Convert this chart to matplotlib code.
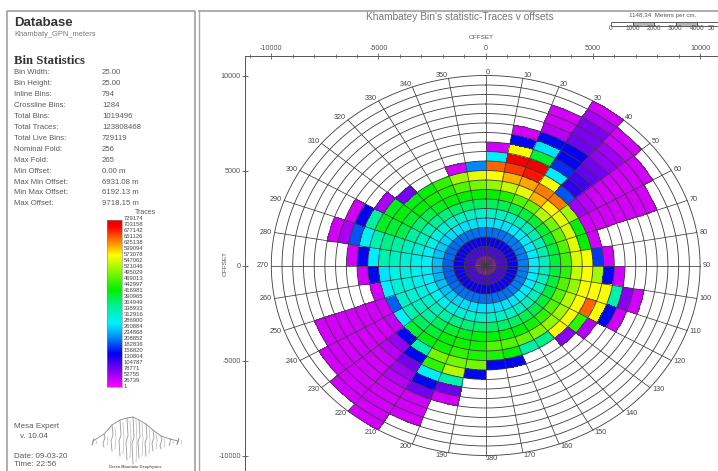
import numpy as np
import matplotlib
matplotlib.use('Agg')
import matplotlib.pyplot as plt
from matplotlib.colors import LinearSegmentedColormap, Normalize
from matplotlib.patches import Rectangle

plt.rcParams['font.family'] = ['Liberation Sans', 'DejaVu Sans']
plt.rcParams['axes.unicode_minus'] = False

W, H = 718, 471

# traces per bin, thousands, one row per 10 degree sector, rings of 500 m from the centre out
sector_traces = [
    [35, 105, 140, 205, 270, 320, 380, 425, 510, 570, 650, 275, 27],
    [35, 105, 140, 205, 270, 325, 385, 440, 540, 610, 670, 715, 570, 150, 27],
    [35, 105, 140, 205, 270, 325, 390, 470, 560, 620, 690, 715, 400, 270, 150, 40, 30, 27],
    [35, 105, 140, 210, 275, 330, 395, 480, 610, 640, 570, 275, 170, 150, 140, 80, 75, 75, 50, 27],
    [35, 105, 140, 210, 275, 330, 400, 530, 580, 640, 190, 120, 110, 90, 80, 60, 55, 30, 27],
    [35, 105, 140, 210, 275, 335, 400, 490, 560, 520, 55, 40, 30, 27, 27, 27, 27, 27],
    [35, 105, 140, 210, 275, 335, 400, 480, 550, 420, 27, 27, 27, 27, 27, 27, 27],
    [35, 105, 140, 210, 275, 335, 395, 470, 560, 425, 27],
    [35, 105, 140, 210, 275, 330, 395, 460, 550, 570, 175, 27],
    [35, 105, 140, 210, 275, 330, 395, 450, 540, 570, 520, 150, 27],
    [35, 105, 140, 210, 275, 330, 395, 470, 510, 570, 575, 570, 340, 70, 27],
    [35, 105, 140, 210, 275, 330, 395, 470, 530, 570, 650, 570, 150, 27],
    [35, 105, 140, 210, 275, 330, 395, 470, 520, 570, 450, 45],
    [35, 105, 140, 210, 275, 330, 390, 450, 510, 570, 70],
    [35, 105, 140, 205, 270, 325, 385, 430, 500, 360],
    [35, 105, 140, 205, 270, 320, 380, 420, 480, 345],
    [35, 105, 140, 205, 270, 320, 375, 420, 470, 420, 150],
    [35, 105, 140, 205, 270, 320, 375, 420, 470, 440, 150],
    [35, 105, 140, 205, 270, 320, 375, 420, 430, 440, 490, 150],
    [35, 105, 140, 205, 270, 315, 370, 410, 430, 450, 490, 530, 340, 85, 27],
    [35, 105, 140, 205, 265, 310, 360, 400, 420, 430, 490, 450, 275, 150, 80, 30, 27, 27],
    [35, 105, 140, 205, 260, 300, 350, 380, 400, 420, 340, 150, 80, 55, 40, 30, 27, 27, 27, 27],
    [35, 105, 140, 200, 255, 290, 330, 350, 380, 400, 150, 60, 40, 30, 27, 27, 27, 27, 27],
    [35, 105, 140, 200, 250, 285, 315, 330, 340, 280, 35, 27, 27, 27, 27, 27, 27, 27],
    [35, 105, 140, 195, 245, 280, 300, 310, 320, 195, 27, 27, 27, 27, 27, 27, 27],
    [35, 105, 140, 195, 240, 275, 290, 300, 310, 280, 27],
    [35, 105, 140, 195, 240, 275, 290, 300, 300, 270, 150, 27],
    [35, 105, 140, 195, 245, 280, 295, 310, 330, 340, 275, 140, 27],
    [35, 105, 140, 200, 250, 285, 310, 330, 350, 360, 340, 280, 190, 50, 27],
    [35, 105, 140, 200, 255, 295, 325, 350, 390, 400, 410, 350, 145, 27],
    [35, 105, 140, 200, 260, 300, 340, 370, 400, 420, 410, 50],
    [35, 105, 140, 205, 265, 310, 355, 390, 420, 415, 80],
    [35, 105, 140, 205, 270, 315, 365, 410, 430, 420],
    [35, 105, 140, 205, 270, 320, 375, 420, 440, 450],
    [35, 105, 140, 205, 270, 320, 380, 425, 470, 520, 27],
    [35, 105, 140, 205, 270, 320, 380, 425, 490, 560, 215],
]
ring_edges = [0, 500, 1000, 1500, 2000, 2500, 3000, 3500, 4000, 4500, 5000,
              5500, 6000, 6500, 7000, 7500, 8000, 8500, 9000, 9500, 10000]
azimuth_labels = ['0', '10', '20', '30', '40', '50', '60', '70', '80', '90', '100', '110',
                  '120', '130', '140', '150', '160', '170', '180', '190', '200', '210', '220', '230',
                  '240', '250', '260', '270', '280', '290', '300', '310', '320', '330', '340', '350']

trace_levels = ['729174', '703158', '677142', '651126', '625138', '599094', '573078', '547062',
                '521046', '495029', '469013', '442997', '416981', '390965', '364949', '338933',
                '312916', '286900', '260884', '234868', '208852', '182836', '156820', '130804',
                '104787', '78771', '52755', '26739', '1']

stats_names = ['Bin Width:', 'Bin Height:', 'Inline Bins:', 'Crossline Bins:', 'Total Bins:',
               'Total Traces:', 'Total Live Bins:', 'Nominal Fold:', 'Max Fold:', 'Min Offset:',
               'Max Min Offset:', 'Min Max Offset:', 'Max Offset:']
stats_values = ['25.00', '25.00', '794', '1284', '1019496', '123808468', '729119', '256', '265',
                '0.00 m', '6931.08 m', '6192.13 m', '9718.15 m']

scale_ticks = ['0', '1000', '2000', '3000', '4000', '50']

cmap = LinearSegmentedColormap.from_list('mesa', [
    (0.0, '#ff00ff'), (0.1, '#8000f0'), (0.2, '#0000f0'), (0.3, '#0090f8'), (0.38, '#00f0ff'),
    (0.48, '#00f0a0'), (0.58, '#00f000'), (0.79, '#ffff00'), (0.96, '#ff0000'), (1.0, '#e80000')])
norm = Normalize(0, 729)

fig = plt.figure(figsize=(W / 100, H / 100), dpi=100, facecolor='white')

# overlay in pixel coordinates for the panels and the text blocks
bg = fig.add_axes([0, 0, 1, 1])
bg.set_xlim(0, W)
bg.set_ylim(H, 0)
bg.axis('off')
GREY = '#a8a8a8'
TXT = '#5a5a5a'
bg.plot([7, 7, 195, 195], [H, 11, 11, H], color=GREY, lw=1.3)
bg.plot([199, 199], [H, 11], color=GREY, lw=1.0)
bg.plot([199, W], [10.5, 10.5], color=GREY, lw=1.3)

bg.text(14, 23, 'Database', fontsize=9.5, fontweight='bold', color='#333333', va='center')
bg.text(14, 35, 'Khambaty_GPN_meters', fontsize=5.4, color='#777777', va='center')
bg.text(14, 61, 'Bin Statistics', fontsize=9.2, fontweight='bold', family='Liberation Serif',
        color='#333333', va='center')
for i, (name, val) in enumerate(zip(stats_names, stats_values)):
    y = 72.5 + i * 10.95
    bg.text(14, y, name, fontsize=5.6, color=TXT, va='center')
    bg.text(102, y, val, fontsize=5.6, color=TXT, va='center')

bg.text(146, 213, 'Traces', fontsize=5, color=TXT, ha='center', va='center')
for i, lab in enumerate(trace_levels):
    bg.text(124, 219 + i * 6.0, lab, fontsize=4.2, color='#444444', va='center')

bg.text(14, 427, 'Mesa Expert', fontsize=5.8, color=TXT, va='center')
bg.text(20, 436, 'v. 10.04', fontsize=5.8, color=TXT, va='center')
bg.text(14, 456, 'Date: 09-03-20', fontsize=5.8, color=TXT, va='center')
bg.text(14, 465, 'Time: 22:56', fontsize=5.8, color=TXT, va='center')

# logo, a mountain drawn from wiggles
logo_x = [93, 104, 112, 120, 127, 133, 139, 146, 153, 161, 170, 178]
logo_top = [441, 434, 425, 420, 418, 417, 420, 424, 430, 436, 439, 441]
logo_bot = [443, 447, 451, 456, 460, 464, 458, 456, 451, 449, 445, 442]
bg.plot(logo_x, logo_top, color='#888888', lw=0.6)
for xv, yt, yb in zip(logo_x, logo_top, logo_bot):
    bg.plot([xv, xv + 1, xv - 1, xv], [yt, (yt + yb) / 2 - 3, (yt + yb) / 2 + 3, yb],
            color='#999999', lw=0.6)
    bg.plot([xv + 3, xv + 4, xv + 3], [yt + 3, (yt + yb) / 2, yb - 2], color='#bbbbbb', lw=0.5)
bg.text(135, 467, 'Green Mountain Geophysics', fontsize=2.8, color='#666666', ha='center',
        va='center', fontweight='bold')

bg.text(460, 17, "Khambatey Bin's statistic-Traces v offsets", fontsize=7.3, color='#777777',
        ha='center', va='center')
bg.text(663, 15.5, '1148.34  Meters per cm.', fontsize=4.5, color='#555555', ha='center', va='center')
for i, lab in enumerate(scale_ticks):
    x0 = 611 + i * 21.5
    bg.add_patch(Rectangle((x0, 22), 21.5, 4, fc='#b8b8b8' if i % 2 else 'white',
                           ec='#444444', lw=0.6, clip_on=True))
    bg.text(min(x0, 711), 29, lab, fontsize=4.8, color='#555555', ha='center', va='center')

# main axes, x and y have slightly different scales so the rose comes out elliptical
L, T, R, B = 245, 56, W, H
ax = fig.add_axes([L / W, 1 - B / H, (R - L) / W, (B - T) / H])
ax.patch.set_alpha(0)
ppx, ppy = 0.02144, 0.0190
cx, cy = 485.7, 265.5
ax.set_xlim((L - cx) / ppx, (R - cx) / ppx)
ax.set_ylim((cy - B) / ppy, (cy - T) / ppy)

n_sub = 5
n_sect = len(sector_traces)
n_ring = len(ring_edges) - 1
grid = np.full((n_sect, n_ring), np.nan)
for i, row in enumerate(sector_traces):
    grid[i, :len(row)] = row
grid = np.ma.masked_invalid(np.repeat(grid, n_sub, axis=0))

th = np.deg2rad(np.linspace(0, 360, n_sect * n_sub + 1))
rr = np.array(ring_edges, dtype=float)
T_, R_ = np.meshgrid(th, rr, indexing='ij')
ax.pcolormesh(R_ * np.sin(T_), R_ * np.cos(T_), grid, cmap=cmap, norm=norm, shading='flat',
              antialiased=False, zorder=1)

LINE = '#3c3c3c'
tt = np.linspace(0, 2 * np.pi, 361)
for r in ring_edges[1:]:
    ax.plot(r * np.sin(tt), r * np.cos(tt), color=LINE, lw=0.6, zorder=2)
for i, lab in enumerate(azimuth_labels):
    a = np.deg2rad(i * 10)
    ax.plot([0, rr[-1] * np.sin(a)], [0, rr[-1] * np.cos(a)], color=LINE, lw=0.55, zorder=2)
    ax.text(10120 * np.sin(a), 10150 * np.cos(a), lab, fontsize=5.2, color='#444444',
            ha='left' if i <= 18 else 'right', va='center', clip_on=False)

ax.spines['right'].set_visible(False)
ax.spines['bottom'].set_visible(False)
for s in ('top', 'left'):
    ax.spines[s].set_color('#555555')
    ax.spines[s].set_linewidth(0.7)
ax.xaxis.tick_top()
ax.set_xticks([-10000, -5000, 0, 5000, 10000])
ax.set_xticks(np.arange(-11000, 10001, 1000), minor=True)
ax.set_yticks([-10000, -5000, 0, 5000, 10000])
ax.tick_params(axis='both', which='major', labelsize=5.2, labelcolor='#555555', color='#555555',
               length=4, width=0.6, direction='inout', pad=1)
ax.tick_params(axis='x', which='minor', top=True, bottom=False, length=3, width=0.5,
               color='#555555', direction='inout')
ax.xaxis.set_label_position('top')
ax.set_xlabel('OFFSET', fontsize=4.6, color='#555555', labelpad=4)
ax.set_ylabel('OFFSET', fontsize=4.6, color='#555555')
ax.yaxis.set_label_coords((228 - L) / (R - L), 0.5)

# colour bar built from the same map as the rose
cb = fig.add_axes([107 / W, 1 - 387 / H, 15 / W, 167 / H])
cb.imshow(np.linspace(1, 0, 256)[:, None], cmap=cmap, aspect='auto', vmin=0, vmax=1)
cb.set_xticks([])
cb.set_yticks([])
for s in cb.spines.values():
    s.set_color('#888888')
    s.set_linewidth(0.4)

fig.savefig('out.png', dpi=100)
